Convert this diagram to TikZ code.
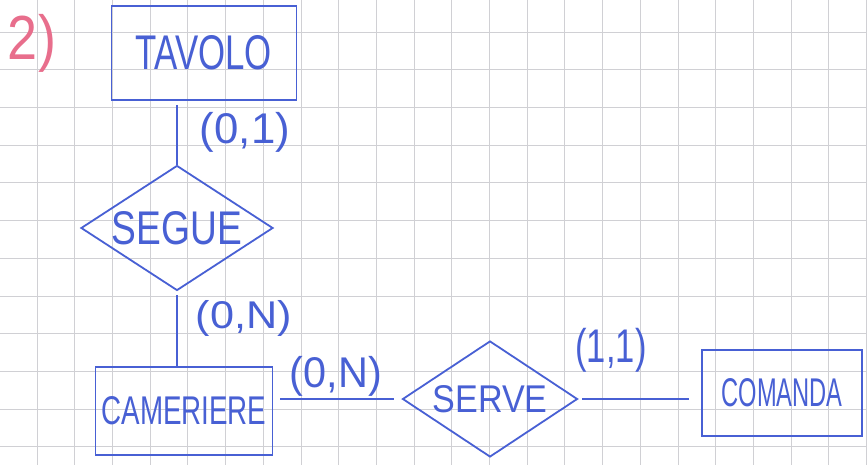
\documentclass[tikz,border=0pt]{standalone}
\usepackage{fontspec}
\usepackage{graphicx}
\setmainfont{Liberation Sans}
\usetikzlibrary{shapes.geometric}
\definecolor{ink}{RGB}{72,96,212}
\definecolor{pinkink}{RGB}{232,110,140}
\definecolor{gridc}{RGB}{208,208,212}
\newcommand\hw[3]{\resizebox{#1}{#2}{#3}}
\newcommand\hwt[3]{\resizebox*{#1}{#2}{#3}}
\begin{document}
\begin{tikzpicture}[x=1pt,y=-1pt,
  entity/.style={draw=ink, line width=1.8pt, rectangle, inner sep=0pt, text=ink},
  relation/.style={draw=ink, line width=1.8pt, diamond, aspect=1.5, inner sep=0pt, text=ink},
  link/.style={draw=ink, line width=1.8pt},
  card/.style={text=ink, inner sep=0pt},
  gridline/.style={draw=gridc, line width=0.8pt}]
\useasboundingbox (0,0) rectangle (867,465);
\fill[white] (0,0) rectangle (867,465);
\foreach \k in {0,...,23} \draw[gridline] ({-0.7+37.7*\k},0) -- ({-0.7+37.7*\k},465);
\foreach \k in {0,...,11} \draw[gridline] (0,{32+37.7*\k}) -- (867,{32+37.7*\k});

\node[entity, minimum width=185pt, minimum height=94pt] (tav) at (204,53) {\hw{136pt}{34pt}{TAVOLO}};
\node[relation, minimum width=192pt, minimum height=125pt] (seg) at (177,228) {\hw{130pt}{33pt}{SEGUE}};
\node[entity, minimum width=177pt, minimum height=88pt] (cam) at (184,411) {\hw{165pt}{28pt}{CAMERIERE}};
\node[relation, minimum width=175pt, minimum height=116pt] (srv) at (490,399) {\hw{115pt}{27pt}{SERVE}};
\node[entity, minimum width=160pt, minimum height=86pt] (com) at (782,393) {\hw{121pt}{28pt}{COMANDA}};

\draw[link, shorten <=4pt] (tav.south -| seg.north) -- (seg.north);
\draw[link, shorten <=4pt] (seg.south) -- (seg.south |- cam.north);
\draw[link, shorten <=7pt, shorten >=8pt] (srv.west -| cam.east) -- (srv.west);
\draw[link, shorten <=4pt, shorten >=12pt] (srv.east) -- (srv.east -| com.west);

\node[card] (c1) at (245,132) {\hwt{90pt}{40pt}{(0,1)}};
\node[card] (c2) at (244,318) {\hwt{96pt}{36pt}{(0,N)}};
\node[card] (c3) at (336,376) {\hwt{92pt}{40pt}{(0,N)}};
\node[card] (c4) at (611,350) {\hwt{71pt}{44pt}{(1,1)}};
\node[text=pinkink, inner sep=0pt] (num) at (32,43) {\hwt{48pt}{58pt}{2)}};
\end{tikzpicture}
\end{document}
